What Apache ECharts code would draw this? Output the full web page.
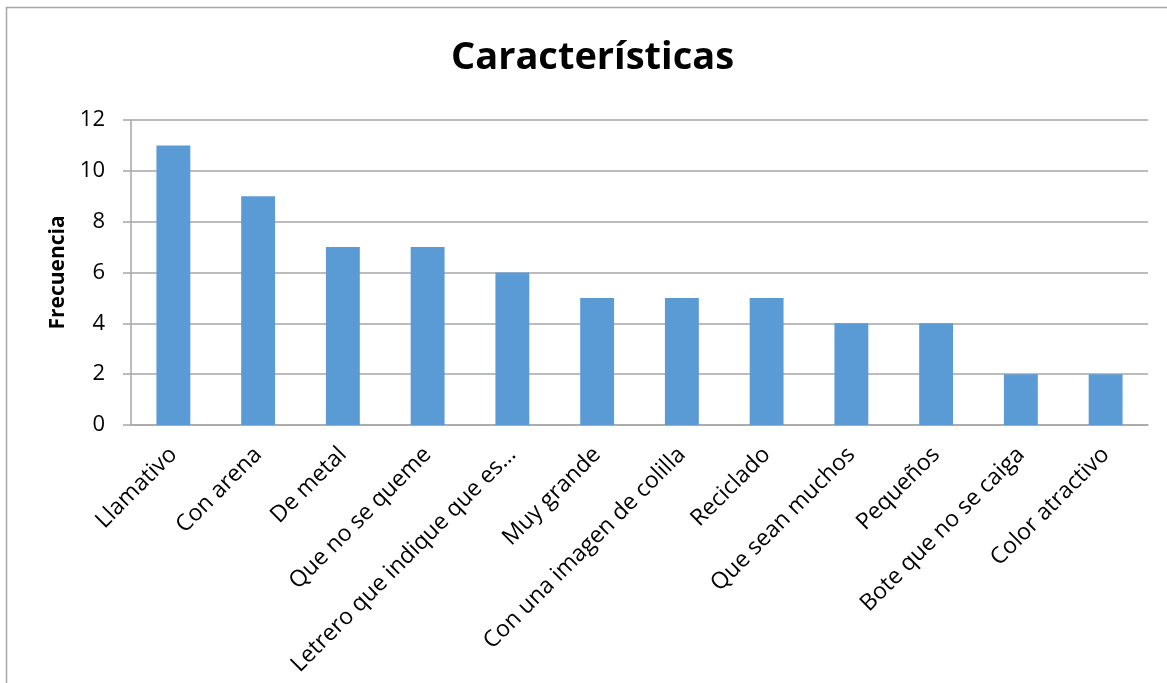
<!DOCTYPE html>
<html>
<head>
<meta charset="utf-8">
<script src="https://cdn.jsdelivr.net/npm/echarts@6/dist/echarts.min.js"></script>
<style>
  html, body { margin: 0; padding: 0; background: #fff; }
  #chart { width: 1167px; height: 683px; }
</style>
</head>
<body>
<div id="chart"></div>
<script>
// Survey results: desired characteristics and how often each was mentioned
const categories = [
  'Llamativo', 'Con arena', 'De metal', 'Que no se queme',
  'Letrero que indique que es…', 'Muy grande', 'Con una imagen de colilla',
  'Reciclado', 'Que sean muchos', 'Pequeños', 'Bote que no se caiga',
  'Color atractivo'
];
const frecuencia = [11, 9, 7, 7, 6, 5, 5, 5, 4, 4, 2, 2];

const FONT = '"Open Sans", "Noto Sans", sans-serif';
const GRAY = '#a6a6a6';

const chart = echarts.init(document.getElementById('chart'));
chart.setOption({
  animation: false,
  backgroundColor: '#fff',
  title: {
    text: 'Características',
    left: 446,
    top: 34,
    textStyle: { fontFamily: FONT, fontSize: 38, fontWeight: 'bold', color: '#000' }
  },
  graphic: [{
    type: 'rect',
    shape: { x: 6.5, y: 7.5, width: 1175, height: 700 },
    style: { fill: 'none', stroke: GRAY, lineWidth: 1.5 },
    silent: true
  }],
  grid: { left: 131, right: 19, top: 120, bottom: 258 },
  xAxis: {
    type: 'category',
    data: categories,
    axisLine: { lineStyle: { color: GRAY, width: 1.5 } },
    axisTick: { show: false },
    axisLabel: {
      rotate: 45,
      interval: 0,
      margin: 26,
      fontFamily: FONT,
      fontSize: 23,
      color: '#000'
    }
  },
  yAxis: {
    type: 'value',
    min: 0,
    max: 12,
    interval: 2,
    name: 'Frecuencia',
    nameLocation: 'middle',
    nameGap: 60,
    nameTextStyle: { fontFamily: FONT, fontSize: 21, fontWeight: 'bold', color: '#000' },
    axisLine: { show: true, lineStyle: { color: GRAY, width: 1.5 } },
    axisTick: { show: true, length: 8, lineStyle: { color: GRAY, width: 1.5 } },
    axisLabel: { fontFamily: FONT, fontSize: 22, color: '#000', margin: 26 },
    splitLine: { lineStyle: { color: GRAY, width: 1.5 } }
  },
  series: [{
    type: 'bar',
    data: frecuencia,
    barCategoryGap: '60%',
    itemStyle: { color: '#5b9bd5' }
  }]
});
</script>
</body>
</html>
